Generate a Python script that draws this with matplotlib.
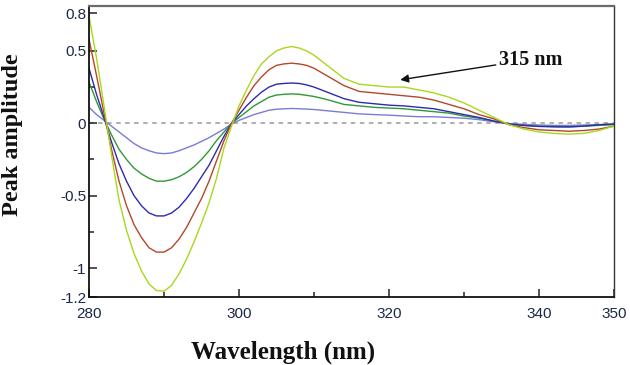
import matplotlib
matplotlib.use("Agg")
import matplotlib.pyplot as plt
from matplotlib.ticker import FixedLocator, FixedFormatter

# ---- data (1 nm up to 312, then 2 nm) ----
wavelength = list(range(280, 313)) + list(range(314, 351, 2))

curve_yellowgreen = [0.74, 0.45, 0.12, -0.22, -0.53, -0.74, -0.90, -1.02, -1.11, -1.155,
                     -1.16, -1.12, -1.04, -0.94, -0.82, -0.69, -0.55, -0.38, -0.17, -0.02,
                     0.12, 0.23, 0.33, 0.41, 0.46, 0.50, 0.52, 0.53, 0.52, 0.50,
                     0.47, 0.43, 0.39,
                     0.31, 0.27, 0.26, 0.25, 0.25, 0.23, 0.21, 0.18, 0.14, 0.09,
                     0.04, -0.01, -0.04, -0.06, -0.07, -0.075, -0.07, -0.05, -0.02]
curve_red = [0.58, 0.33, 0.07, -0.18, -0.40, -0.57, -0.70, -0.79, -0.86, -0.89,
             -0.89, -0.86, -0.80, -0.72, -0.62, -0.52, -0.40, -0.26, -0.12, 0.0,
             0.09, 0.18, 0.26, 0.32, 0.37, 0.40, 0.41, 0.415, 0.41, 0.40,
             0.38, 0.35, 0.32,
             0.26, 0.22, 0.21, 0.20, 0.19, 0.18, 0.16, 0.13, 0.10, 0.06,
             0.03, -0.01, -0.03, -0.045, -0.05, -0.055, -0.05, -0.04, -0.02]
curve_blue = [0.38, 0.20, 0.04, -0.13, -0.28, -0.40, -0.50, -0.57, -0.62, -0.64,
              -0.64, -0.62, -0.58, -0.52, -0.45, -0.37, -0.29, -0.19, -0.09, 0.0,
              0.06, 0.12, 0.17, 0.215, 0.25, 0.27, 0.275, 0.278, 0.275, 0.265,
              0.25, 0.23, 0.21,
              0.17, 0.145, 0.135, 0.125, 0.12, 0.11, 0.10, 0.08, 0.06, 0.04,
              0.015, -0.005, -0.015, -0.022, -0.025, -0.025, -0.02, -0.01, -0.005]
curve_green = [0.285, 0.15, 0.03, -0.08, -0.18, -0.25, -0.31, -0.35, -0.38, -0.40,
               -0.40, -0.39, -0.37, -0.34, -0.30, -0.25, -0.19, -0.12, -0.06, 0.0,
               0.04, 0.08, 0.12, 0.15, 0.18, 0.195, 0.20, 0.203, 0.20, 0.193,
               0.185, 0.173, 0.16,
               0.13, 0.12, 0.11, 0.105, 0.10, 0.09, 0.08, 0.07, 0.05, 0.035,
               0.015, -0.005, -0.015, -0.02, -0.022, -0.025, -0.02, -0.015, -0.01]
curve_purple = [0.11, 0.06, 0.02, -0.02, -0.06, -0.10, -0.14, -0.17, -0.19, -0.205,
                -0.21, -0.205, -0.19, -0.17, -0.15, -0.125, -0.10, -0.07, -0.04, -0.005,
                0.02, 0.04, 0.06, 0.075, 0.09, 0.097, 0.10, 0.102, 0.10, 0.098,
                0.095, 0.09, 0.085,
                0.075, 0.065, 0.06, 0.056, 0.05, 0.045, 0.045, 0.04, 0.035, 0.025,
                0.01, -0.002, -0.008, -0.012, -0.015, -0.015, -0.012, -0.01, -0.005]

y_ticks_major = [-1.2, -1.0, -0.5, 0.0, 0.5, 0.76]
y_labels_major = ["-1.2", "-1", "-0.5", "0", "0.5", "0.8"]
y_ticks_minor = [-0.75, -0.25, 0.25]
x_ticks_major = [280, 300, 320, 340, 350]
x_ticks_minor = [290, 310, 330]

# ---- figure ----
fig = plt.figure(figsize=(6.3, 3.65), dpi=100)
ax = fig.add_axes([0.1413, 0.1863, 0.8333, 0.7973])

ax.axhline(0, color="#a8a8a8", lw=1.3, ls=(0, (2.5, 2.5)), zorder=1)

series = [
    (curve_purple, "#7b7bd6"),
    (curve_green, "#2f9a34"),
    (curve_blue, "#2b2bb0"),
    (curve_red, "#b4472b"),
    (curve_yellowgreen, "#a8d81c"),
]
for vals, col in series:
    ax.plot(wavelength, vals, color=col, lw=1.0, zorder=2)

ax.set_xlim(280, 350)
ax.set_ylim(-1.2, 0.81)

tick_col = "#1c2848"
ax.yaxis.set_major_locator(FixedLocator(y_ticks_major))
ax.yaxis.set_major_formatter(FixedFormatter(y_labels_major))
ax.yaxis.set_minor_locator(FixedLocator(y_ticks_minor))
ax.xaxis.set_major_locator(FixedLocator(x_ticks_major))
ax.xaxis.set_minor_locator(FixedLocator(x_ticks_minor))

ax.tick_params(which="major", direction="in", length=6, width=1.2, color="#333333",
               labelsize=11, labelcolor=tick_col, pad=2)
ax.tick_params(which="minor", direction="in", length=3.5, width=1.2, color="#333333")
for lab in ax.get_xticklabels() + ax.get_yticklabels():
    lab.set_family("Liberation Sans")
ax.tick_params(axis="x", which="major", pad=7)

for side in ("left", "bottom"):
    ax.spines[side].set_color("#111111")
    ax.spines[side].set_linewidth(1.3)
ax.spines["top"].set_color("#6a6a6a")
ax.spines["top"].set_linewidth(1.6)
ax.spines["right"].set_color("#333333")
ax.spines["right"].set_linewidth(1.0)

serif = ["Liberation Serif", "DejaVu Serif"]
fig.text(0.02, 1 - 135 / 365, "Peak amplitude", rotation=90, ha="center", va="center",
         family=serif, fontweight="bold", fontsize=17.5, color="#111111")
fig.text(283 / 630, 1 - 352 / 365, "Wavelength (nm)", ha="center", va="center",
         family=serif, fontweight="bold", fontsize=18, color="#111111")

ax.annotate("315 nm", xy=(321.5, 0.30), xytext=(334.6, 0.44),
            ha="left", va="center", family=serif, fontweight="bold", fontsize=14.5,
            color="#111111",
            arrowprops=dict(arrowstyle="-|>", color="#111111", lw=1.0,
                            mutation_scale=12, shrinkA=0, shrinkB=0))

fig.savefig("out.png", dpi=100)
